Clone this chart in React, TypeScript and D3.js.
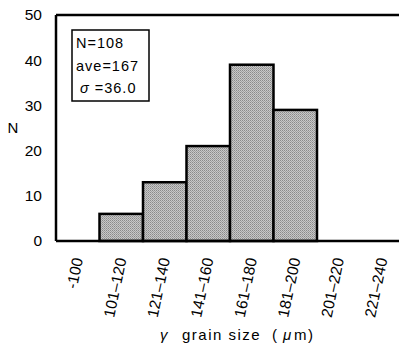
import React from "react";
import { scaleBand, scaleLinear } from "d3";

const categories = ["-100", "101\u2013120", "121\u2013140", "141\u2013160", "161\u2013180", "181\u2013200", "201\u2013220", "221\u2013240"];
const counts = [0, 6, 13, 21, 39, 29, 0, 0];
const yTicks = [0, 10, 20, 30, 40, 50];
const statLines = ["N=108", "ave=167", "\u03c3 =36.0"];

const W = 399;
const H = 351;
const left = 56;
const top = 15;
const bottom = 241;
const font = "'Liberation Sans', Arial, sans-serif";

export default function App() {
  const x = scaleBand().domain(categories).range([left, left + 8 * 43.5]).padding(0);
  const y = scaleLinear().domain([0, 50]).range([bottom, top]);

  return (
    <svg
      width={W}
      height={H}
      style={{ position: "absolute", left: 0, top: 0, background: "#fff" }}
      fontFamily={font}
    >
      <defs>
        <pattern id="dots" width="2" height="2" patternUnits="userSpaceOnUse">
          <rect width="2" height="2" fill="#c8c8c8" />
          <rect width="1" height="1" fill="#8a8a8a" />
          <rect x="1" y="1" width="1" height="1" fill="#a0a0a0" />
        </pattern>
      </defs>

      {/* bars */}
      {categories.map((c, i) =>
        counts[i] > 0 ? (
          <rect
            key={c}
            x={x(c)}
            y={y(counts[i])}
            width={x.bandwidth()}
            height={y(0) - y(counts[i])}
            fill="url(#dots)"
            stroke="#000"
            strokeWidth={2.5}
          />
        ) : null
      )}

      {/* frame */}
      <line x1={left} x2={W + 5} y1={top} y2={top} stroke="#000" strokeWidth={2.5} />
      <line x1={left} x2={W + 5} y1={bottom} y2={bottom} stroke="#000" strokeWidth={2.5} />
      <line x1={left} x2={left} y1={top} y2={bottom} stroke="#000" strokeWidth={2.5} />

      {/* y ticks */}
      {yTicks.map((t) => (
        <text key={t} x={42} y={y(t)} dy="0.35em" textAnchor="end" fontSize={15.5}>
          {t}
        </text>
      ))}
      <text x={13} y={128} dy="0.35em" textAnchor="middle" fontSize={15}>
        N
      </text>

      {/* stats box */}
      <rect x={72} y={30} width={77} height={71} fill="#fff" stroke="#000" strokeWidth={1.5} />
      {statLines.map((s, i) => (
        <text key={s} x={76} y={43 + i * 22.5} dy="0.35em" fontSize={14.5} letterSpacing={1}>
          {i === 2 ? (
            <>
              <tspan fontStyle="italic" dx={4}>{"\u03c3"}</tspan>
              <tspan>{" =36.0"}</tspan>
            </>
          ) : (
            s
          )}
        </text>
      ))}

      {/* x labels */}
      {categories.map((c) => {
        const cx = (x(c) as number) + x.bandwidth() / 2;
        return (
          <text
            key={c}
            transform={`translate(${cx},258) rotate(-78)`}
            textAnchor="end"
            dy="0.35em"
            fontSize={15.5}
          >
            {c}
          </text>
        );
      })}

      <text x={160} y={335} dy="0.35em" fontSize={15} letterSpacing={1.5}>
        <tspan fontStyle="italic">{"\u03b3"}</tspan>
        <tspan x={182}>{"grain size"}</tspan>
        <tspan x={272}>{"("}</tspan>
        <tspan x={283} fontStyle="italic">{"\u03bc"}</tspan>
        <tspan x={294}>{"m)"}</tspan>
      </text>
    </svg>
  );
}
